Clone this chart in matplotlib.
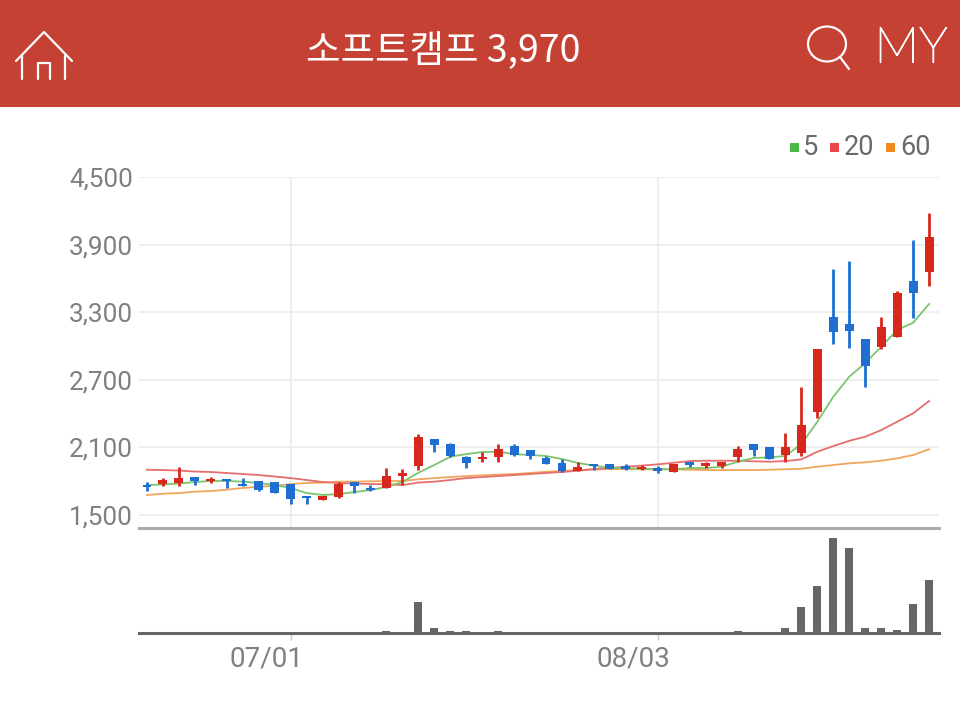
# plot.py
# Stock candle chart with moving averages and volume, inside a red app header.

import numpy as np
import matplotlib
matplotlib.use("Agg")
import matplotlib.pyplot as plt
import matplotlib.patheffects as pe
from matplotlib.patches import Rectangle, Ellipse
from matplotlib.transforms import ScaledTranslation

W, H = 960, 708

title = "소프트캠프 3,970"
y_ticks = [1500, 2100, 2700, 3300, 3900, 4500]
y_labels = ["1,500", "2,100", "2,700", "3,300", "3,900", "4,500"]
x_tick_pos = [9, 32]
x_tick_labels = ["07/01", "08/03"]

opens = [1770, 1775, 1787, 1840, 1800, 1817, 1772, 1800, 1790, 1775,
         1665, 1633, 1660, 1790, 1742, 1737, 1846, 1935, 2177, 2128,
         2017, 1994, 2017, 2115, 2077, 2008, 1959, 1893, 1953, 1950,
         1935, 1911, 1920, 1884, 1973, 1938, 1935, 2017, 2128, 2100,
         2030, 2048, 2414, 3255, 3192, 3065, 2994, 3083, 3577, 3660]
closes = [1745, 1815, 1830, 1800, 1820, 1805, 1755, 1722, 1698, 1645,
          1648, 1668, 1775, 1757, 1722, 1846, 1875, 2195, 2124, 2024,
          1959, 2015, 2083, 2033, 2024, 1950, 1893, 1929, 1938, 1905,
          1910, 1926, 1893, 1955, 1944, 1959, 1970, 2083, 2077, 2000,
          2100, 2301, 2976, 3122, 3136, 2825, 3166, 3468, 3473, 3970]
highs = [1790, 1830, 1930, 1840, 1835, 1820, 1830, 1805, 1790, 1775,
         1665, 1668, 1790, 1790, 1766, 1917, 1905, 2216, 2177, 2142,
         2025, 2062, 2130, 2130, 2077, 2024, 1994, 1968, 1953, 1950,
         1955, 1944, 1935, 1955, 1973, 1973, 1973, 2115, 2128, 2100,
         2230, 2639, 2976, 3680, 3755, 3065, 3255, 3490, 3941, 4178]
lows = [1715, 1760, 1760, 1770, 1780, 1740, 1755, 1712, 1698, 1598,
        1598, 1633, 1655, 1698, 1712, 1737, 1766, 1900, 2060, 2012,
        1920, 1970, 1970, 2025, 1997, 1950, 1885, 1893, 1899, 1905,
        1900, 1897, 1873, 1884, 1929, 1920, 1917, 1973, 2024, 2000,
        1973, 2024, 2358, 3018, 2985, 2633, 2973, 3083, 3246, 3533]

ma5 = [1766, 1771, 1780, 1793, 1802, 1802, 1797, 1784, 1766, 1740,
       1695, 1678, 1686, 1704, 1722, 1749, 1793, 1875, 1944, 2017,
       2041, 2059, 2062, 2041, 2033, 2024, 1997, 1962, 1938, 1920,
       1917, 1911, 1908, 1906, 1917, 1917, 1929, 1973, 2006, 2012,
       2024, 2130, 2328, 2550, 2728, 2849, 2994, 3142, 3207, 3373]
ma20 = [1902, 1899, 1895, 1886, 1882, 1873, 1864, 1855, 1842, 1828,
        1811, 1793, 1784, 1780, 1775, 1775, 1766, 1788, 1796, 1811,
        1828, 1837, 1846, 1855, 1864, 1873, 1882, 1893, 1908, 1917,
        1929, 1939, 1950, 1964, 1979, 1982, 1982, 1982, 1977, 1973,
        1979, 1994, 2062, 2112, 2159, 2195, 2254, 2328, 2403, 2512]
ma60 = [1678, 1689, 1695, 1707, 1713, 1725, 1740, 1751, 1760, 1775,
        1784, 1788, 1796, 1797, 1799, 1802, 1802, 1817, 1828, 1837,
        1846, 1852, 1859, 1864, 1873, 1884, 1891, 1899, 1904, 1908,
        1908, 1906, 1906, 1906, 1902, 1899, 1899, 1899, 1899, 1902,
        1906, 1911, 1929, 1944, 1959, 1968, 1982, 2003, 2033, 2083]

volume = [1, 1, 1, 1, 1, 1, 1, 1, 1, 1,
          1, 1, 1, 1, 1, 2.5, 1, 31, 5, 2.5,
          2.5, 1, 2.5, 1, 1, 1, 1, 1, 1, 1,
          1, 1, 1, 1, 1, 1, 1, 2.5, 1, 1,
          5, 26, 47, 95, 85, 5, 5, 3.5, 29, 53]

legend_names = ["5", "20", "60"]

RED = "#D8281E"
BLUE = "#1F6FD2"
GRAY = "#808080"

plt.rcParams["font.family"] = ["Roboto", "Noto Sans CJK KR", "DejaVu Sans"]

fig = plt.figure(figsize=(W / 100, H / 100), dpi=100, facecolor="white")


def box(left, top, right, bottom):
    return [left / W, 1 - bottom / H, (right - left) / W, (bottom - top) / H]


# price panel
ax = fig.add_axes(box(139, 177, 939, 528))
x = np.arange(len(opens))
ax.set_xlim(-0.5, 49.62)
ax.set_ylim(1385, 4500)
ax.set_yticks(y_ticks, y_labels)
ax.set_xticks(x_tick_pos, [])
ax.grid(color="#EDEDED", lw=1.3)
ax.set_axisbelow(True)
ax.tick_params(length=0)
ax.tick_params(axis="y", labelsize=18.8, labelcolor=GRAY, pad=4.5)
for s in ["top", "left", "right"]:
    ax.spines[s].set_visible(False)
ax.spines["bottom"].set_color("#ABABAB")
ax.spines["bottom"].set_linewidth(2.2)

ax.plot(x, ma60, color="#F0A55C", lw=1.3, zorder=2)
ax.plot(x, ma20, color="#E56F6C", lw=1.3, zorder=2)
ax.plot(x, ma5, color="#7CC46C", lw=1.3, zorder=2)

colors = [RED if c >= o else BLUE for o, c in zip(opens, closes)]
ax.vlines(x, lows, highs, colors=colors, lw=2, zorder=3)
body_low = np.minimum(opens, closes)
body_h = np.abs(np.array(closes) - np.array(opens))
ax.bar(x, body_h, bottom=body_low, width=0.56, color=colors, zorder=3)

# volume panel
ax_v = fig.add_axes(box(139, 535, 939, 633))
ax_v.set_xlim(-0.5, 49.62)
ax_v.set_ylim(0, 98)
ax_v.bar(x, volume, width=0.5, color="#666666")
ax_v.set_yticks([])
ax_v.set_xticks(x_tick_pos, x_tick_labels)
ax_v.tick_params(axis="x", length=5, width=1, color="#CCCCCC", labelsize=20,
                 labelcolor=GRAY, pad=4)
for lab in ax_v.get_xticklabels():
    lab.set_transform(lab.get_transform() + ScaledTranslation(-0.24, 0, fig.dpi_scale_trans))
for s in ["top", "left", "right"]:
    ax_v.spines[s].set_visible(False)
ax_v.spines["bottom"].set_color("#666666")
ax_v.spines["bottom"].set_linewidth(2.2)

# header and legend, drawn in pixel coordinates
top = fig.add_axes([0, 0, 1, 1], facecolor="none")
top.set_xlim(0, W)
top.set_ylim(H, 0)
top.axis("off")
top.add_patch(Rectangle((0, 0), W, 107, color="#C44134", lw=0))
top.text(443, 52, title, color="white", fontsize=27, ha="center", va="center",
         family=["Noto Sans CJK KR", "DejaVu Sans"], weight="medium")
my = top.text(911, 49, "MY", color="white", fontsize=36, ha="center", va="center",
              family=["Lato", "DejaVu Sans"], weight="light")
my.set_path_effects([pe.withStroke(linewidth=0.9, foreground="white")])

line = dict(color="white", lw=1.6, solid_capstyle="round")
top.plot([16, 44, 72], [61, 32, 61], **line)
top.plot([22, 22], [56, 79], **line)
top.plot([65, 65], [56, 79], **line)
top.plot([38, 38, 50, 50], [79, 63, 63, 79], **line)
top.add_patch(Ellipse((827, 44), 38, 35, fill=False, ec="white", lw=1.6))
top.plot([840, 849], [57, 69], **line)

legend_colors = ["#4CB845", "#E8474C", "#F08A1D"]
legend_sq = [790, 830, 886]
legend_tx = [803, 844, 900]
for name, c, sq, tx in zip(legend_names, legend_colors, legend_sq, legend_tx):
    top.add_patch(Rectangle((sq, 143), 9, 9, color=c, lw=0))
    top.text(tx, 147.5, name, color="#6A6A6A", fontsize=19.5, ha="left", va="center",
             weight="normal")

fig.savefig("out.png", dpi=100)
print("saved out.png")
